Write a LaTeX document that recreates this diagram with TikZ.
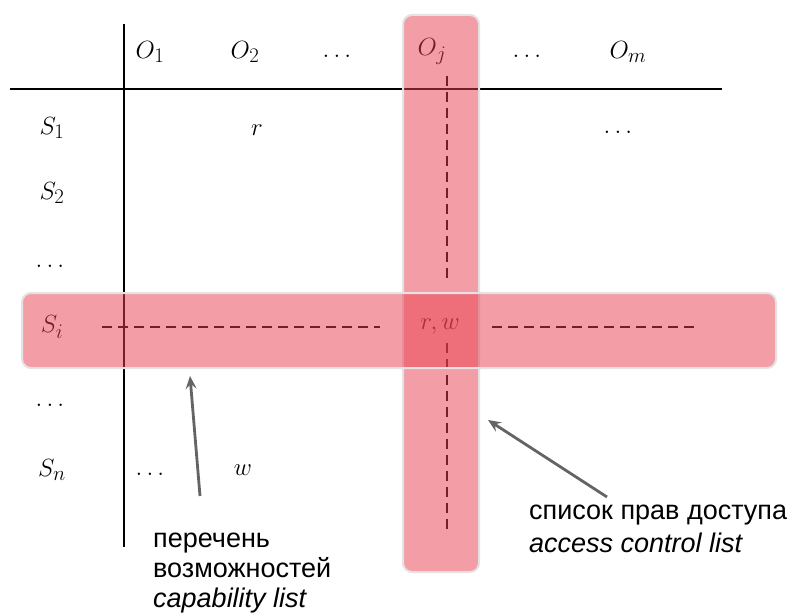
\documentclass[tikz,border=0pt]{standalone}
\usepackage{fontspec}
\setsansfont{Liberation Sans}
\usepackage{tikz}
\usetikzlibrary{arrows.meta}
\definecolor{bandred}{RGB}{232,62,78}
\definecolor{ptrgray}{RGB}{100,100,100}
\tikzset{
	lbl/.style={font=\fontsize{30}{34}\selectfont, inner sep=1pt},
	band/.style={rounded corners=9pt, fill=bandred, fill opacity=0.5, draw=gray!22, line width=2pt},
	ptr/.style={-{Stealth[length=13pt,width=11pt,inset=5pt]}, draw=ptrgray, line width=2.8pt},
	cut/.style={line width=1.3pt, dash pattern=on 10pt off 6pt},
	note/.style={font=\sffamily\fontsize{27}{30}\selectfont, align=left, anchor=base west, inner sep=0pt}
}

\begin{document}
\begin{tikzpicture}[x=1pt,y=-1pt]
\useasboundingbox (0,0) rectangle (792,615);

% header of objects
\node[lbl] (o1) at (150,52) {$O_1$};
\node[lbl] (o2) at (245,52) {$O_2$};
\node[lbl] (od1) at (337,56) {$\dots$};
\node[lbl] (oj) at (432,52) {$O_j$};
\node[lbl] (od2) at (527,56) {$\dots$};
\node[lbl] (om) at (628,52) {$O_m$};

% subjects
\node[lbl] (s1) at (52,128) {$S_1$};
\node[lbl] (s2) at (52,193) {$S_2$};
\node[lbl] (sd1) at (50,266) {$\dots$};
\node[lbl] (si) at (52,327) {$S_i$};
\node[lbl] (sd2) at (50,405) {$\dots$};
\node[lbl] (sn) at (52,470) {$S_n$};

% entries
\node[lbl] (r1) at (257,130) {$r$};
\node[lbl] (d1) at (618,132) {$\dots$};
\node[lbl] (rw) at (440,327) {$r,w$};
\node[lbl] (dn) at (150,474) {$\dots$};
\node[lbl] (wn) at (243,470) {$w$};

\draw[line width=1.3pt] (10,89) -- (722,89);
\draw[line width=1.3pt] (124,24) -- (124,547);

\draw[cut] (102,327) -- (380,327);
\draw[cut] (492,327) -- (697,327);
\draw[cut] (447,76) -- (447,284);
\draw[cut] (447,343) -- (447,535);

% the two lists
\draw[band] (403,15) rectangle (479,572);
\draw[band] (22,293) rectangle (776,368);

\node[note] (cap) at (153,607) {перечень\\возможностей\\\textit{capability list}};
\node[note] (acl) at (529,552) {список прав доступа\\[3pt]\textit{access control list}};

\coordinate (captail) at (200,496);
\coordinate (caphead) at (190,376);
\coordinate (acltail) at (607,497);
\coordinate (aclhead) at (488,420);
\draw[ptr] (captail) -- (caphead);
\draw[ptr] (acltail) -- (aclhead);
\end{tikzpicture}
\end{document}
